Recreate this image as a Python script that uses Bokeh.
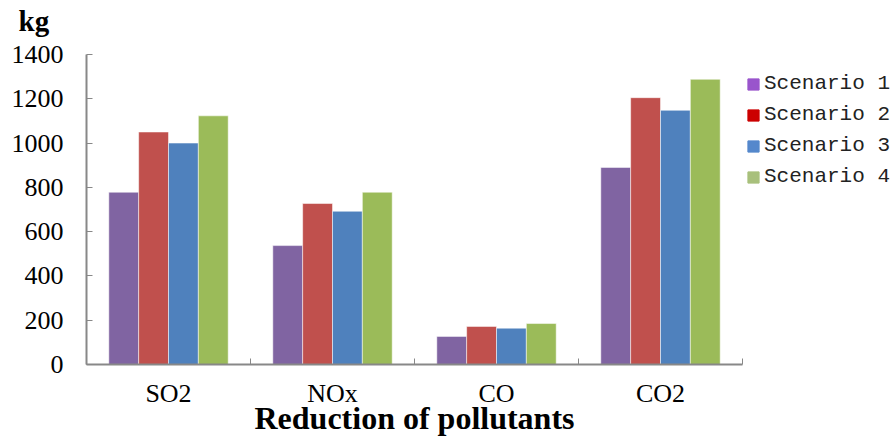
from bokeh.plotting import figure
from bokeh.models import FixedTicker, Range1d, Legend, LegendItem, Title
from bokeh.embed import file_html
from bokeh.resources import INLINE

categories = ["SO2", "NOx", "CO", "CO2"]
series_names = ["Scenario 1", "Scenario 2", "Scenario 3", "Scenario 4"]
scenario1 = [778, 537, 127, 890]
scenario2 = [1050, 727, 172, 1205]
scenario3 = [1000, 692, 164, 1148]
scenario4 = [1123, 778, 185, 1288]
y_ticks = [0, 200, 400, 600, 800, 1000, 1200, 1400]

series = [scenario1, scenario2, scenario3, scenario4]
bar_colors = ["#8064A2", "#C0504D", "#4F81BD", "#9BBB59"]
legend_colors = ["#9955CC", "#CC0000", "#5588CC", "#A8C07C"]

p = figure(frame_width=656, frame_height=310, output_backend="svg", toolbar_location=None,
           x_range=Range1d(0, len(categories)), y_range=Range1d(0, 1400),
           min_border_left=86, min_border_top=54, min_border_bottom=73, min_border_right=0)

bar_w = 0.182
for i, vals in enumerate(series):
    xs = [j + 0.5 + (i - 1.5) * bar_w for j in range(len(categories))]
    p.vbar(x=xs, top=vals, width=bar_w, bottom=0, fill_color=bar_colors[i],
           line_color="white", line_alpha=0.5, line_width=1)

# legend proxies (off-screen)
items = []
for i, name in enumerate(series_names):
    lr = p.quad(left=[-10], right=[-9], bottom=[-10], top=[-9], fill_color=legend_colors[i],
                line_color=legend_colors[i])
    items.append(LegendItem(label=name, renderers=[lr]))

legend = Legend(items=items, location=(4, 176), border_line_color=None,
                background_fill_alpha=0,
                label_text_font="Liberation Mono", label_text_font_size="21px",
                label_text_color="#222222", glyph_width=14, glyph_height=14,
                label_standoff=4, spacing=8, padding=0, margin=0,
                label_height=22)
p.add_layout(legend, "right")

p.grid.visible = False
p.outline_line_color = None

spacer = Title(text=" ", align="left", standoff=5, text_font_size="10px")
p.add_layout(spacer, "above")
title = Title(text="kg", align="left", offset=-68, standoff=0,
              text_font="Liberation Serif", text_font_style="bold",
              text_font_size="29px", text_color="black")
p.add_layout(title, "above")

xa = p.xaxis[0]
xa.ticker = FixedTicker(ticks=[j + 0.5 for j in range(len(categories))],
                        minor_ticks=list(range(len(categories) + 1)))
xa.major_label_overrides = {j + 0.5: c for j, c in enumerate(categories)}
xa.major_tick_in = 0
xa.major_tick_out = 0
xa.minor_tick_in = 6
xa.minor_tick_out = 0
xa.minor_tick_line_color = "#888888"
xa.axis_line_color = "#888888"
xa.axis_line_width = 2
xa.major_label_text_font = "Liberation Serif"
xa.major_label_text_font_size = "26px"
xa.major_label_text_color = "black"
xa.major_label_standoff = 14
xa.axis_label = "Reduction of pollutants"
xa.axis_label_text_font = "Liberation Serif"
xa.axis_label_text_font_style = "bold"
xa.axis_label_text_font_size = "32px"
xa.axis_label_text_color = "black"
xa.axis_label_standoff = -11

ya = p.yaxis[0]
ya.ticker = FixedTicker(ticks=y_ticks)
ya.minor_tick_line_color = None
ya.major_tick_in = 6
ya.major_tick_out = 0
ya.major_tick_line_color = "#888888"
ya.axis_line_color = "#888888"
ya.axis_line_width = 2
ya.major_label_text_font = "Liberation Serif"
ya.major_label_text_font_size = "26px"
ya.major_label_text_color = "black"
ya.major_label_standoff = 23

open("out.html", "w").write(file_html(p, INLINE))
